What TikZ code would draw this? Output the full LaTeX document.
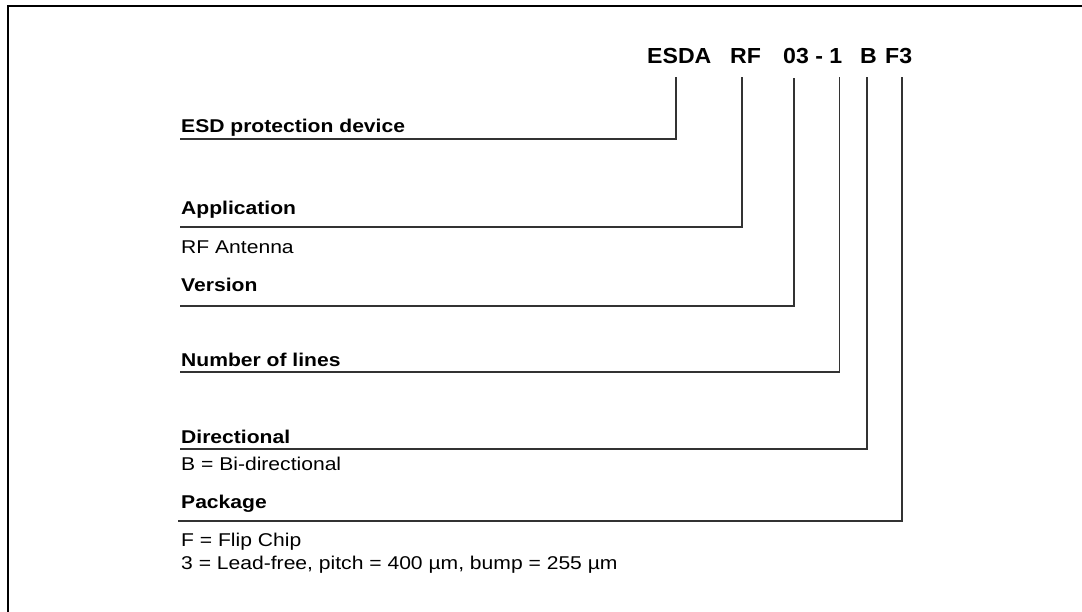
\documentclass[tikz,border=0pt]{standalone}
\usepackage{fontspec}
\setmainfont{Liberation Sans}[FakeStretch=1.14]
\newfontfamily\titlefont{Liberation Sans}[FakeStretch=1.06]
\begin{document}
\begin{tikzpicture}[x=1pt,y=-1pt,
  lbl/.style={anchor=base west,inner sep=0pt,font=\fontsize{18.5}{21}\selectfont\bfseries},
  txt/.style={anchor=base west,inner sep=0pt,font=\fontsize{18.5}{21}\selectfont},
  ttl/.style={anchor=base west,inner sep=0pt,font=\titlefont\fontsize{21.8}{24}\selectfont\bfseries},
  conn/.style={line width=1.3pt,draw=black!80},
  frame/.style={line width=2.6pt,draw=black}]
\useasboundingbox (0,0) rectangle (1082,611);
% frame
\draw[frame] (8,640) -- (8,6) -- (1100,6);
% title parts
\node[ttl] (tE) at (647,63) {ESDA};
\node[ttl] (tR) at (730,63) {RF};
\node[ttl] (tV) at (783,63) {03 - 1};
\node[ttl] (tB) at (860,63) {B};
\node[ttl] (tF) at (885,63) {F3};
% labels
\node[lbl] (lE) at (181,132.5) {ESD protection device};
\node[lbl] (lA) at (181,214.5) {Application};
\node[txt] (lA2) at (181,253) {RF Antenna};
\node[lbl] (lV) at (181,291.5) {Version};
\node[lbl] (lN) at (181,366) {Number of lines};
\node[lbl] (lD) at (181,443) {Directional};
\node[txt] (lD2) at (181,470) {B = Bi-directional};
\node[lbl] (lP) at (181,508) {Package};
\node[txt] (lP2) at (181,546) {F = Flip Chip};
\node[txt] (lP3) at (181,569) {3 = Lead-free, pitch = 400 µm, bump = 255 µm};
% connector coordinates
\coordinate (aE) at (676,77);  \coordinate (uE) at (180,139);
\coordinate (aR) at (742,77);  \coordinate (uR) at (180,227);
\coordinate (aV) at (794,78);  \coordinate (uV) at (180,306);
\coordinate (aN) at (839.5,77);  \coordinate (uN) at (180,372);
\coordinate (aB) at (867,77);  \coordinate (uB) at (180,449);
\coordinate (aF) at (902,77);  \coordinate (uF) at (178,521);
\draw[conn] (aE) |- (uE);
\draw[conn] (aR) |- (uR);
\draw[conn] (aV) |- (uV);
\draw[conn] (aN) |- (uN);
\draw[conn] (aB) |- (uB);
\draw[conn] (aF) |- (uF);
\end{tikzpicture}
\end{document}
